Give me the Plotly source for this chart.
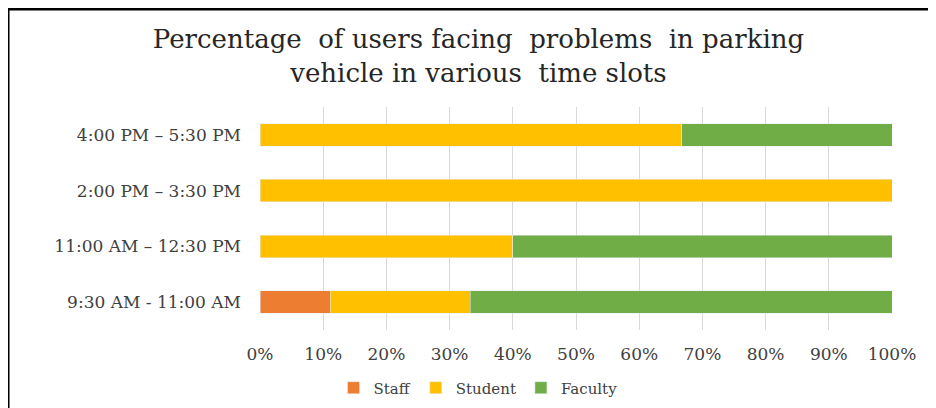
import plotly.graph_objects as go

categories = ["9:30 AM - 11:00 AM", "11:00 AM – 12:30 PM", "2:00 PM – 3:30 PM", "4:00 PM – 5:30 PM"]
staff = [11.1, 0, 0, 0]
student = [22.2, 40, 100, 66.7]
faculty = [66.7, 60, 0, 33.3]
tick_vals = [0, 10, 20, 30, 40, 50, 60, 70, 80, 90, 100]
tick_text = [f"{v}%" for v in tick_vals]

FONT = "DejaVu Serif, Liberation Serif, serif"

fig = go.Figure()
fig.add_trace(go.Bar(y=categories, x=staff, name="Staff", orientation="h", marker_color="#ED7D31", width=0.4))
fig.add_trace(go.Bar(y=categories, x=student, name="Student", orientation="h", marker_color="#FFC000", width=0.4))
fig.add_trace(go.Bar(y=categories, x=faculty, name="Faculty", orientation="h", marker_color="#70AD47", width=0.4))

fig.update_layout(
    barmode="stack",
    width=928, height=400,
    margin=dict(l=252, r=44, t=99, b=78, autoexpand=False),
    paper_bgcolor="white", plot_bgcolor="white",
    font=dict(family=FONT, color="#404040", size=15),
    title=dict(text="Percentage  of users facing  problems  in parking<br>vehicle in various  time slots",
               x=0.507, xref="container", xanchor="center", y=0.899, yref="container", yanchor="middle",
               font=dict(family=FONT, size=26, color="#262626")),
    legend=dict(orientation="h", x=0.345, xanchor="center", y=-0.26, yanchor="middle",
                font=dict(family=FONT, size=15, color="#404040"), traceorder="normal",
                itemwidth=30),
    showlegend=True,
)
fig.update_xaxes(range=[0, 100], tickvals=tick_vals, ticktext=tick_text, showgrid=True,
                 gridcolor="#D9D9D9", gridwidth=1, zeroline=False, showline=False,
                 tickfont=dict(size=17), ticks="", ticklabelstandoff=12, automargin=False)
fig.update_yaxes(showgrid=False, showline=False, ticks="", tickfont=dict(size=17),
                 ticklabelstandoff=18, automargin=False)

# Frame lines (top and left) as in the reference image
fig.add_shape(type="line", xref="paper", yref="paper", x0=-0.3987, x1=1.07, y0=1.44, y1=1.44,
              line=dict(color="black", width=3))
fig.add_shape(type="line", xref="paper", yref="paper", x0=-0.3987, x1=-0.3987, y0=1.44, y1=-0.36,
              line=dict(color="black", width=3))

fig.write_html("out.html")
